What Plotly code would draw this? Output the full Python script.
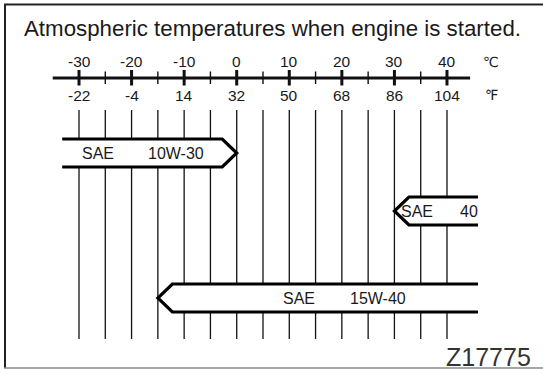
import plotly.graph_objects as go

# Temperature scale
celsius_major = [-30, -20, -10, 0, 10, 20, 30, 40]
fahrenheit_labels = ["-22", "-4", "14", "32", "50", "68", "86", "104"]
celsius_grid = [-30, -25, -20, -15, -10, -5, 0, 5, 10, 15, 20, 25, 30, 35, 40]

# Oil grades with their usable temperature span (°C); open ends run off the chart
grades = ["10W-30", "40", "15W-40"]
grade_low = [-33.2, 30, -15]
grade_high = [0, 45.9, 45.9]
arrow_points = ["right", "left", "left"]

W, H = 543, 377
PX_PER_C = 5.257
X0_PX = 79  # pixel of -30 °C
x_min = -30 - X0_PX / PX_PER_C
x_max = x_min + W / PX_PER_C

FONT = "Liberation Sans, Arial, Helvetica, DejaVu Sans, sans-serif"
INK = "#1a1a1a"

fig = go.Figure()
shapes = []
annotations = []

# Frame: dark left/top edges, light grey bottom rule
shapes.append(dict(type="line", xref="paper", yref="y", x0=5 / W, x1=5 / W, y0=4, y1=368,
                   line=dict(color="#222", width=2)))
shapes.append(dict(type="line", xref="paper", yref="y", x0=4 / W, x1=1, y0=4.5, y1=4.5,
                   line=dict(color="#222", width=2)))
shapes.append(dict(type="line", xref="paper", yref="y", x0=4 / W, x1=1, y0=368, y1=368,
                   line=dict(color="#888", width=1.5)))

# Vertical guide lines every 5 °C
for c in celsius_grid:
    shapes.append(dict(type="line", xref="x", yref="y", x0=c, x1=c, y0=110, y1=339,
                       line=dict(color="#111", width=1.3)))

# Scale axis
shapes.append(dict(type="line", xref="x", yref="y", x0=-35, x1=44.4, y0=78, y1=78,
                   line=dict(color="#111", width=3.2)))
for c in celsius_grid:
    major = c in celsius_major
    shapes.append(dict(type="line", xref="x", yref="y", x0=c, x1=c,
                       y0=70 if major else 71.5, y1=85.5 if major else 84,
                       line=dict(color="#111", width=3 if major else 1.4)))

# Grade arrows
band_y = [153, 211, 298]
half_h = 14
head = 14.5 / PX_PER_C
for lo, hi, pt, yc in zip(grade_low, grade_high, arrow_points, band_y):
    top, bot = yc - half_h, yc + half_h
    if pt == "right":
        body = f"M {lo},{top} L {hi - head},{top} L {hi},{yc} L {hi - head},{bot} L {lo},{bot} Z"
        edge = f"M {lo},{top} L {hi - head},{top} L {hi},{yc} L {hi - head},{bot} L {lo},{bot}"
    else:
        body = f"M {hi},{top} L {lo + head},{top} L {lo},{yc} L {lo + head},{bot} L {hi},{bot} Z"
        edge = f"M {hi},{top} L {lo + head},{top} L {lo},{yc} L {lo + head},{bot} L {hi},{bot}"
    shapes.append(dict(type="path", xref="x", yref="y", path=body,
                       fillcolor="white", line=dict(width=0)))
    shapes.append(dict(type="path", xref="x", yref="y", path=edge,
                       line=dict(color="#000", width=3.2)))

# Arrow captions: "SAE" ends at the first pixel, grade starts at the second
caption_px = [(116, 146), (435, 458), (317, 348)]
for g, yc, (sae_r, grade_l) in zip(grades, band_y, caption_px):
    annotations.append(dict(x=x_min + sae_r / PX_PER_C, y=yc, xref="x", yref="y", text="SAE",
                            xanchor="right", yanchor="middle", showarrow=False,
                            font=dict(family=FONT, size=16, color=INK)))
    annotations.append(dict(x=x_min + grade_l / PX_PER_C, y=yc, xref="x", yref="y", text=g,
                            xanchor="left", yanchor="middle", showarrow=False,
                            font=dict(family=FONT, size=16, color=INK)))

# Scale labels
for c, f in zip(celsius_major, fahrenheit_labels):
    annotations.append(dict(x=c, y=61.5, xref="x", yref="y", text=str(c), showarrow=False,
                            xanchor="center", yanchor="middle",
                            font=dict(family=FONT, size=15.5, color=INK)))
    annotations.append(dict(x=c, y=95, xref="x", yref="y", text=f, showarrow=False,
                            xanchor="center", yanchor="middle",
                            font=dict(family=FONT, size=15.5, color=INK)))
annotations.append(dict(x=x_min + 491 / PX_PER_C, y=61.5, xref="x", yref="y", text="℃",
                        showarrow=False, xanchor="center", yanchor="middle",
                        font=dict(family="DejaVu Sans, Noto Sans CJK JP, sans-serif", size=14, color=INK)))
annotations.append(dict(x=x_min + 491 / PX_PER_C, y=95, xref="x", yref="y", text="℉",
                        showarrow=False, xanchor="center", yanchor="middle",
                        font=dict(family="DejaVu Sans, Noto Sans CJK JP, sans-serif", size=14, color=INK)))

# Heading and drawing number
annotations.append(dict(x=22 / W, y=28, xref="paper", yref="y",
                        text="Atmospheric temperatures when engine is started.",
                        showarrow=False, xanchor="left", yanchor="middle",
                        font=dict(family=FONT, size=22.3, color=INK)))
annotations.append(dict(x=533 / W, y=357, xref="paper", yref="y", text="Z17775",
                        showarrow=False, xanchor="right", yanchor="middle",
                        font=dict(family=FONT, size=25, color="#333")))

fig.update_layout(
    width=W, height=H,
    margin=dict(l=0, r=0, t=0, b=0),
    paper_bgcolor="white", plot_bgcolor="white",
    showlegend=False,
    xaxis=dict(range=[x_min, x_max], visible=False, fixedrange=True),
    yaxis=dict(range=[H, 0], visible=False, fixedrange=True),
    shapes=shapes,
    annotations=annotations,
)

fig.write_html("out.html")
